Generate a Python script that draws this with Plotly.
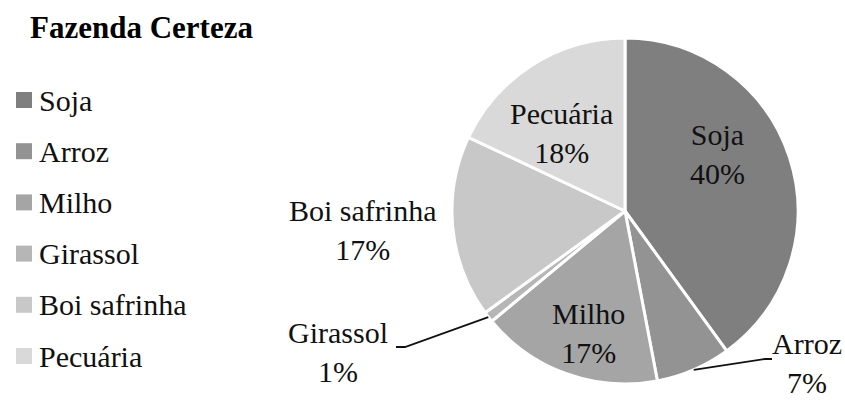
import math
import plotly.graph_objects as go

# ---- data ----
categories = ["Soja", "Arroz", "Milho", "Girassol", "Boi safrinha", "Pecuária"]
values = [40, 7, 17, 1, 17, 18]
colors = ["#7f7f7f", "#939393", "#a5a5a5", "#b6b6b6", "#c8c8c8", "#d9d9d9"]
title_text = "Fazenda Certeza"

# ---- layout constants (pixels) ----
W, H = 845, 401
FONT = "Liberation Serif"
FS = 30
PIE_LEFT, PIE_RIGHT, PIE_TOP, PIE_BOTTOM = 452, 798, 38, 384
CX, CY = (PIE_LEFT + PIE_RIGHT) / 2, (PIE_TOP + PIE_BOTTOM) / 2
R = (PIE_BOTTOM - PIE_TOP) / 2

def px(x):
    return x / W

def py(y):
    return 1 - y / H

# label positions (center of the two-line block), in pixels
label_pos = {
    "Soja": (717, 154),
    "Arroz": (807, 363),
    "Milho": (588, 333),
    "Girassol": (338, 352),
    "Boi safrinha": (362, 230),
    "Pecuária": (561, 133),
}
# leader line end points (label side), in pixels
leader_end = {
    "Arroz": [(765, 359), (772, 359)],
    "Girassol": [(405, 347), (396, 347)],
}

fig = go.Figure(
    go.Pie(
        labels=categories,
        values=values,
        sort=False,
        direction="clockwise",
        rotation=0,
        marker=dict(colors=colors, line=dict(color="white", width=3)),
        textinfo="none",
        hoverinfo="label+percent",
        showlegend=False,
        domain=dict(x=[px(PIE_LEFT), px(PIE_RIGHT)], y=[py(PIE_BOTTOM), py(PIE_TOP)]),
    )
)

total = sum(values)
annotations = []
shapes = []

# slice labels
cum = 0
for cat, v in zip(categories, values):
    mid = (cum + v / 2) / total * 2 * math.pi
    cum += v
    pct = round(v / total * 100)
    lx, ly = label_pos[cat]
    annotations.append(dict(
        x=px(lx), y=py(ly), xref="paper", yref="paper",
        text=f"{cat}<br>{pct}%", showarrow=False,
        font=dict(family=FONT, size=FS, color="#111111"),
        xanchor="center", yanchor="middle", align="center", borderpad=0,
    ))
    if cat in leader_end:
        sx = CX + R * math.sin(mid)
        sy = CY - R * math.cos(mid)
        pts = [(sx, sy)] + leader_end[cat]
        path = "M " + " L ".join(f"{px(a)},{py(b)}" for a, b in pts)
        shapes.append(dict(type="path", path=path, xref="paper", yref="paper",
                           line=dict(color="#111111", width=1.8)))

# legend (manual)
LEG_X0, LEG_Y0, LEG_DY, SQ = 16, 100, 51.2, 16
for i, (cat, col) in enumerate(zip(categories, colors)):
    yc = LEG_Y0 + i * LEG_DY
    shapes.append(dict(type="rect", xref="paper", yref="paper",
                       x0=px(LEG_X0), x1=px(LEG_X0 + SQ),
                       y0=py(yc + SQ / 2), y1=py(yc - SQ / 2),
                       fillcolor=col, line=dict(width=0)))
    annotations.append(dict(
        x=px(LEG_X0 + SQ + 5), y=py(yc), xref="paper", yref="paper",
        text=cat, showarrow=False, xanchor="left", yanchor="middle",
        font=dict(family=FONT, size=FS, color="#111111"),
    ))

# title
annotations.append(dict(
    x=px(28), y=py(27), xref="paper", yref="paper",
    text=f"<b>{title_text}</b>", showarrow=False, xanchor="left", yanchor="middle",
    font=dict(family=FONT, size=31, color="#000000"),
))

fig.update_layout(
    width=W, height=H,
    margin=dict(l=0, r=0, t=0, b=0),
    paper_bgcolor="white", plot_bgcolor="white",
    annotations=annotations, shapes=shapes,
)

fig.write_html("out.html", config={"displayModeBar": False},
               post_script="document.body.style.margin='0';")
